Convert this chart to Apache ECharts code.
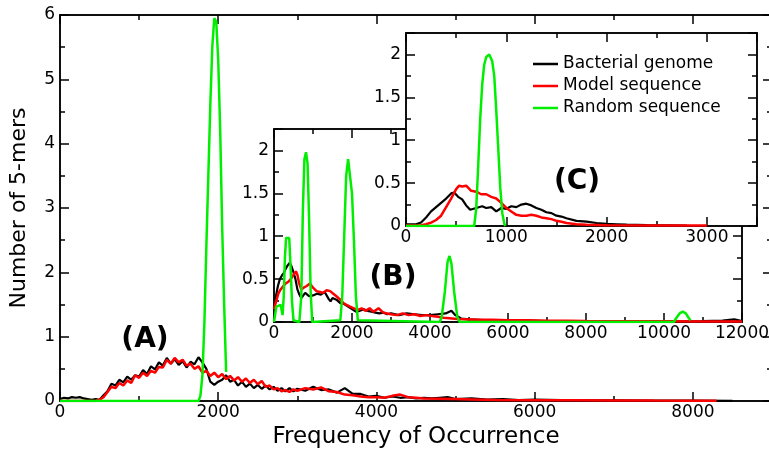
<!DOCTYPE html>
<html><head><meta charset="utf-8">
<script src="https://cdn.jsdelivr.net/npm/echarts@6/dist/echarts.min.js"></script>
<style>html,body{margin:0;padding:0;background:#fff}#c{width:769px;height:449px}</style>
</head><body><div id="c"></div>
<script>
const seriesNames = ['Bacterial genome', 'Model sequence', 'Random sequence'];
const colors = ['#000000', '#ff0000', '#00ee00'];

// Panel (A): main plot
const mainBacterial = [[0,0.03],[50,0.05],[100,0.04],[150,0.06],[200,0.05],[250,0.06],[300,0.04],[350,0.03],[400,0.02],[450,0.03],[500,0.02],[550,0.09],[600,0.15],[650,0.27],[700,0.24],[750,0.33],[800,0.29],[850,0.38],[900,0.33],[950,0.4],[1000,0.38],[1050,0.48],[1100,0.42],[1150,0.54],[1200,0.49],[1250,0.6],[1300,0.55],[1350,0.67],[1400,0.58],[1450,0.65],[1500,0.56],[1550,0.62],[1600,0.52],[1650,0.61],[1700,0.57],[1750,0.68],[1800,0.6],[1850,0.5],[1900,0.3],[1950,0.25],[2000,0.3],[2050,0.33],[2100,0.4],[2150,0.3],[2200,0.33],[2250,0.24],[2300,0.3],[2350,0.22],[2400,0.27],[2450,0.2],[2500,0.25],[2550,0.19],[2600,0.24],[2650,0.18],[2700,0.22],[2750,0.16],[2800,0.2],[2850,0.15],[2900,0.2],[2950,0.15],[3000,0.19],[3100,0.16],[3200,0.22],[3300,0.17],[3400,0.18],[3500,0.13],[3600,0.2],[3700,0.11],[3800,0.11],[3900,0.07],[4000,0.08],[4100,0.05],[4200,0.07],[4300,0.05],[4400,0.06],[4500,0.04],[4600,0.05],[4700,0.04],[4800,0.05],[4900,0.06],[5000,0.03],[5200,0.04],[5400,0.02],[5600,0.03],[5800,0.015],[6000,0.02],[6500,0.01],[7000,0.012],[7500,0.006],[8000,0.008],[8500,0.004]];
const mainModel = [[0,0],[450,0],[500,0.02],[550,0.06],[600,0.14],[650,0.22],[700,0.2],[750,0.28],[800,0.24],[850,0.32],[900,0.28],[950,0.4],[1000,0.36],[1050,0.44],[1100,0.39],[1150,0.47],[1200,0.44],[1250,0.53],[1300,0.52],[1350,0.64],[1400,0.58],[1450,0.67],[1500,0.6],[1550,0.64],[1600,0.55],[1650,0.58],[1700,0.5],[1750,0.54],[1800,0.44],[1850,0.47],[1900,0.39],[1950,0.44],[2000,0.37],[2050,0.42],[2100,0.34],[2150,0.39],[2200,0.32],[2250,0.37],[2300,0.3],[2350,0.35],[2400,0.28],[2450,0.33],[2500,0.26],[2550,0.31],[2600,0.22],[2650,0.24],[2700,0.18],[2750,0.2],[2800,0.15],[2850,0.17],[2900,0.14],[2950,0.18],[3000,0.16],[3100,0.2],[3200,0.18],[3300,0.21],[3400,0.15],[3500,0.14],[3600,0.1],[3700,0.09],[3800,0.07],[3900,0.06],[4000,0.06],[4100,0.05],[4200,0.08],[4300,0.1],[4400,0.06],[4500,0.05],[4600,0.04],[4800,0.035],[5000,0.03],[5200,0.025],[5500,0.015],[6000,0.012],[6500,0.01],[7000,0.008],[7500,0.006],[8000,0.005],[8300,0.004]];
const mainRandom = [[0,0],[1750,0],[1775,0.08],[1800,0.4],[1825,1.2],[1850,2.4],[1875,3.5],[1900,4.6],[1925,5.5],[1950,5.95],[1975,5.9],[2000,5.3],[2025,4.2],[2050,2.7],[2075,1.5],[2100,0.45]];

// Panel (B): inset, full range
const bBacterial = [[0,0.15],[50,0.3],[100,0.42],[150,0.5],[200,0.54],[250,0.57],[300,0.62],[350,0.66],[400,0.69],[450,0.65],[500,0.58],[550,0.5],[600,0.38],[650,0.32],[700,0.28],[750,0.3],[800,0.34],[850,0.32],[900,0.3],[1000,0.31],[1100,0.33],[1200,0.32],[1300,0.35],[1400,0.27],[1450,0.24],[1500,0.28],[1600,0.26],[1700,0.22],[1800,0.21],[1900,0.18],[2000,0.15],[2100,0.12],[2200,0.13],[2300,0.15],[2400,0.13],[2500,0.12],[2600,0.11],[2700,0.1],[2800,0.11],[2900,0.09],[3000,0.1],[3200,0.08],[3400,0.1],[3600,0.09],[3800,0.08],[4000,0.08],[4200,0.09],[4400,0.1],[4550,0.13],[4650,0.08],[4800,0.04],[5000,0.03],[5500,0.02],[6000,0.02],[6500,0.015],[7000,0.01],[8000,0.01],[9000,0.01],[10000,0.008],[11000,0.01],[11500,0.015],[11800,0.03],[12000,0.01]];
const bModel = [[0,0.15],[60,0.25],[110,0.33],[170,0.38],[240,0.42],[300,0.45],[370,0.47],[430,0.5],[500,0.55],[560,0.59],[600,0.55],[640,0.46],[700,0.38],[760,0.4],[840,0.42],[920,0.45],[1000,0.4],[1090,0.36],[1180,0.35],[1260,0.34],[1350,0.37],[1440,0.36],[1520,0.33],[1600,0.3],[1700,0.26],[1780,0.22],[1860,0.2],[1950,0.18],[2050,0.16],[2150,0.14],[2250,0.16],[2350,0.13],[2450,0.16],[2550,0.12],[2680,0.16],[2800,0.11],[2900,0.1],[3000,0.09],[3150,0.08],[3300,0.1],[3450,0.08],[3600,0.09],[3750,0.07],[3900,0.08],[4050,0.07],[4200,0.06],[4350,0.05],[4500,0.045],[4700,0.035],[5000,0.03],[5300,0.025],[5600,0.025],[6000,0.02],[6500,0.02],[7000,0.015],[7500,0.015],[8000,0.012],[9000,0.01],[10000,0.008],[11000,0.006],[12000,0.005]];
const bRandom = [[0,0],[60,0.18],[170,0.2],[220,0.08],[250,0.3],[280,0.75],[310,0.98],[350,1.0],[390,0.98],[420,0.7],[460,0.25],[500,0.02],[540,0],[650,0],[700,0.3],[740,1.3],[780,1.9],[820,1.98],[860,1.85],[900,1.2],[940,0.35],[980,0],[1700,0.02],[1750,0.3],[1800,1.0],[1850,1.7],[1900,1.9],[1950,1.88],[2000,1.5],[2050,0.95],[2100,0.3],[2150,0.02],[2180,0],[4250,0],[4300,0.06],[4380,0.35],[4450,0.7],[4500,0.77],[4550,0.68],[4620,0.35],[4700,0.06],[4760,0],[10250,0],[10320,0.05],[10400,0.1],[10480,0.12],[10560,0.1],[10630,0.05],[10680,0.02]];

// Panel (C): inset, zoomed range
const cBacterial = [[0,0.02],[100,0.02],[150,0.04],[200,0.1],[250,0.17],[300,0.22],[350,0.27],[400,0.32],[450,0.38],[480,0.39],[520,0.34],[560,0.31],[600,0.24],[640,0.19],[700,0.21],[760,0.23],[800,0.21],[850,0.22],[900,0.17],[950,0.21],[1000,0.2],[1050,0.23],[1100,0.22],[1150,0.25],[1200,0.26],[1250,0.24],[1300,0.21],[1350,0.19],[1400,0.16],[1450,0.15],[1500,0.12],[1550,0.11],[1600,0.09],[1700,0.06],[1800,0.05],[1900,0.035],[2000,0.025],[2100,0.02],[2200,0.015],[2400,0.01],[2600,0.008],[2800,0.005]];
const cModel = [[0,0.005],[150,0.01],[200,0.02],[250,0.04],[300,0.07],[350,0.12],[400,0.22],[450,0.32],[500,0.43],[530,0.47],[560,0.46],[600,0.47],[650,0.41],[700,0.4],[750,0.37],[800,0.37],[850,0.34],[900,0.32],[950,0.27],[1000,0.21],[1050,0.17],[1100,0.13],[1150,0.12],[1200,0.12],[1250,0.13],[1300,0.12],[1350,0.1],[1400,0.09],[1450,0.08],[1500,0.06],[1550,0.05],[1600,0.035],[1700,0.02],[1800,0.015],[2000,0.01],[2500,0.007],[3000,0.005]];
const cRandom = [[0,0],[680,0],[700,0.2],[720,0.7],[740,1.25],[760,1.65],[780,1.88],[800,1.97],[830,2.0],[860,1.92],[880,1.75],[900,1.35],[920,0.9],[940,0.45],[960,0.15],[980,0.03],[990,0]];

// axis ranges: [max, major interval, minor interval]
const mainX = [9000, 2000, 1000], mainY = [6, 1, 0.5];
const bX = [12000, 2000, 1000], bY = [2.25, 0.5, 0.25];
const cX = [3500, 1000, 500], cY = [2.25, 0.5, 0.25];

const FONT = 'DejaVu Sans';
const panels = [
  {rect: {left: 60, top: 15, width: 712, height: 386}, x: mainX, y: mainY, z: 0, bg: false,
   data: [mainBacterial, mainModel, mainRandom]},
  {rect: {left: 274, top: 129, width: 468, height: 193}, x: bX, y: bY, z: 3, bg: true,
   data: [bBacterial, bModel, bRandom]},
  {rect: {left: 406, top: 33, width: 351, height: 193}, x: cX, y: cY, z: 6, bg: true,
   data: [cBacterial, cModel, cRandom]}
];

const grid = [], xAxis = [], yAxis = [], series = [];
function fmt(interval) {
  return function (v) {
    const r = v / interval;
    return Math.abs(r - Math.round(r)) < 1e-6 ? String(v) : '';
  };
}
function mkAxis(gi, pos, max, interval, len, labels, z, isX) {
  return {
    type: 'value', gridIndex: gi, position: pos, min: 0, max: max, interval: interval, z: z,
    axisLine: {show: true, onZero: false, lineStyle: {color: '#000', width: 1.5}},
    axisTick: {show: true, inside: true, length: len, lineStyle: {color: '#000', width: 1.5}},
    axisLabel: {show: labels, color: '#000', fontFamily: FONT, fontSize: 17, margin: isX ? 3 : 5, formatter: fmt(interval)},
    splitLine: {show: false}, minorTick: {show: false}
  };
}
panels.forEach(function (p, k) {
  const gMaj = grid.length;
  grid.push(Object.assign({show: p.bg, backgroundColor: '#fff', borderWidth: 0, z: p.z, containLabel: false, outerBoundsMode: 'none'}, p.rect));
  const gMin = grid.length;
  grid.push(Object.assign({show: false, z: p.z + 1, containLabel: false, outerBoundsMode: 'none'}, p.rect));
  const xi = xAxis.length, yi = yAxis.length;
  const xb = mkAxis(gMaj, 'bottom', p.x[0], p.x[1], 9, true, p.z + 1, true);
  const yl = mkAxis(gMaj, 'left', p.y[0], p.y[1], 9, true, p.z + 1, false);
  if (k === 0) {
    xb.name = 'Frequency of Occurrence'; xb.nameLocation = 'middle'; xb.nameGap = 24;
    xb.nameTextStyle = {fontFamily: FONT, fontSize: 23, color: '#000'};
    yl.name = 'Number of 5-mers'; yl.nameLocation = 'middle'; yl.nameGap = 30;
    yl.nameTextStyle = {fontFamily: FONT, fontSize: 22, color: '#000'};
  }
  xAxis.push(xb, mkAxis(gMaj, 'top', p.x[0], p.x[1], 9, false, p.z + 1, true));
  yAxis.push(yl, mkAxis(gMaj, 'right', p.y[0], p.y[1], 9, false, p.z + 1, false));
  xAxis.push(mkAxis(gMin, 'bottom', p.x[0], p.x[2], 5, false, p.z + 1, true), mkAxis(gMin, 'top', p.x[0], p.x[2], 5, false, p.z + 1, true));
  yAxis.push(mkAxis(gMin, 'left', p.y[0], p.y[2], 5, false, p.z + 1, false), mkAxis(gMin, 'right', p.y[0], p.y[2], 5, false, p.z + 1, false));
  p.data.forEach(function (d, s) {
    series.push({
      type: 'line', name: seriesNames[s], data: d, xAxisIndex: xi, yAxisIndex: yi,
      symbol: 'none', showSymbol: false, silent: true, z: p.z + 2,
      lineStyle: {color: colors[s], width: s === 2 ? 2.5 : (s === 1 ? 2.5 : 2.2)},
      itemStyle: {color: colors[s]}
    });
  });
});

const chart = echarts.init(document.getElementById('c'), null, {renderer: 'canvas'});
chart.setOption({
  animation: false,
  backgroundColor: '#fff',
  grid: grid, xAxis: xAxis, yAxis: yAxis, series: series,
  legend: {
    data: seriesNames, orient: 'vertical', left: 528, top: 50, padding: 5,
    icon: 'rect', itemWidth: 25, itemHeight: 2.5, itemGap: 4, selectedMode: false, z: 20,
    textStyle: {fontFamily: FONT, fontSize: 17, color: '#000', lineHeight: 18}
  },
  graphic: [
    {type: 'text', x: 145, y: 340, z: 20, style: {text: '(A)', font: 'bold 28px "DejaVu Sans"', fill: '#000', align: 'center', verticalAlign: 'middle'}},
    {type: 'text', x: 393, y: 278, z: 20, style: {text: '(B)', font: 'bold 28px "DejaVu Sans"', fill: '#000', align: 'center', verticalAlign: 'middle'}},
    {type: 'text', x: 577, y: 182, z: 20, style: {text: '(C)', font: 'bold 28px "DejaVu Sans"', fill: '#000', align: 'center', verticalAlign: 'middle'}}
  ]
});
</script></body></html>
